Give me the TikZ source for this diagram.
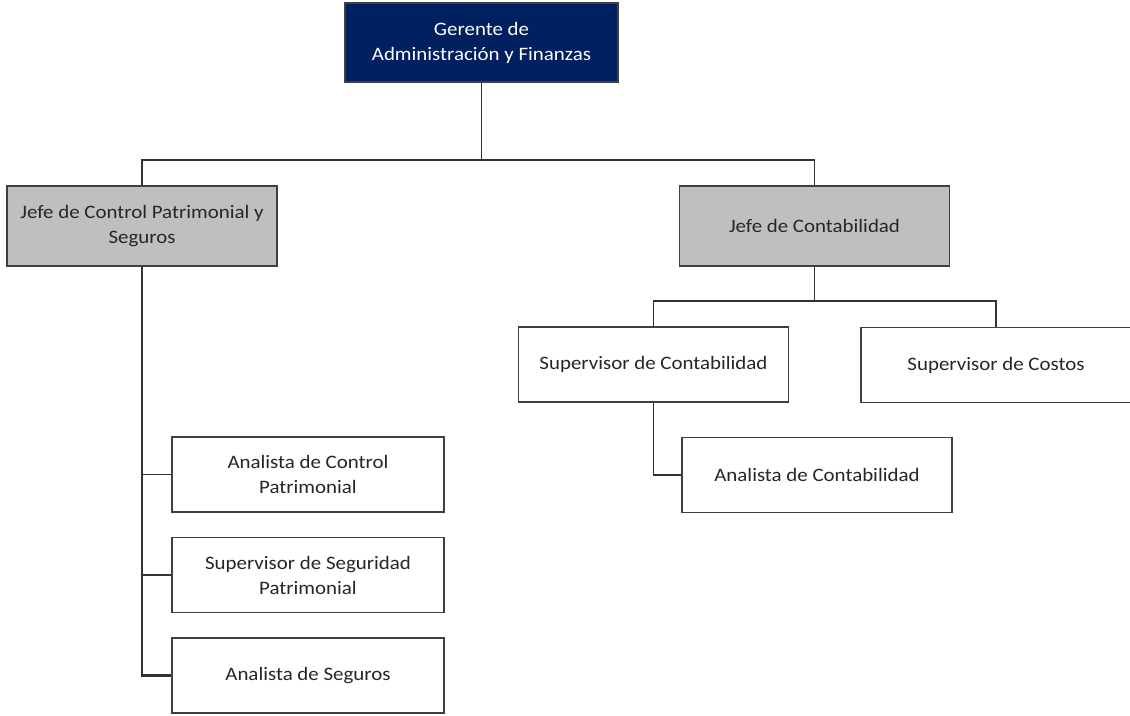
\documentclass[tikz,border=0pt]{standalone}
\usepackage{fontspec}
\setmainfont{Carlito}[FakeStretch=1.1]
\definecolor{azulgerente}{HTML}{002060}
\definecolor{grisjefe}{HTML}{BFBFBF}
\definecolor{borde}{HTML}{404040}
\begin{document}
\begin{tikzpicture}[x=1pt, y=-1pt,
  puesto/.style={draw=borde, line width=1.6pt, fill=white, align=center,
    minimum width=270pt, minimum height=75pt, inner sep=2pt,
    font=\fontsize{19}{25}\selectfont, text=black!85},
  jefe/.style={puesto, fill=grisjefe, minimum height=80pt},
  gerente/.style={puesto, fill=azulgerente, text=white, minimum width=273pt, minimum height=79pt},
  linea/.style={draw=black!80, line width=1.6pt}]
\useasboundingbox (0,0) rectangle (1130,715);
% cabeza
\node[gerente] (ger) at (481.5,42.5) {Gerente de\\Administración y Finanzas};
% jefaturas
\node[jefe] (jcp) at (142,226) {Jefe de Control Patrimonial y\\Seguros};
\node[jefe] (jcon) at (814.5,226) {Jefe de Contabilidad};
% contabilidad
\node[puesto] (scon) at (653.5,364.5) {Supervisor de Contabilidad};
\node[puesto] (scos) at (996,365) {Supervisor de Costos};
\node[puesto] (acon) at (817,475) {Analista de Contabilidad};
% control patrimonial
\node[puesto, minimum width=272pt] (acp) at (308,474.5) {Analista de Control\\Patrimonial};
\node[puesto, minimum width=272pt] (sseg) at (308,575) {Supervisor de Seguridad\\Patrimonial};
\node[puesto, minimum width=272pt] (aseg) at (308,675.5) {Analista de Seguros};
% conectores
\coordinate (b1) at (481.5,160);
\coordinate (b2) at (814.5,301);
\draw[linea] (ger.south) -- (b1);
\draw[linea] (jcp.north) |- (b1) -| (jcon.north);
\draw[linea] (jcon.south) -- (b2);
\draw[linea] (scon.north) |- (b2) -| (scos.north);
\draw[linea] (scon.south) |- (acon.west);
\draw[linea, line width=2.4pt] (jcp.south) |- (aseg.west);
\draw[linea] (jcp.south |- acp.west) -- (acp.west);
\draw[linea] (jcp.south |- sseg.west) -- (sseg.west);
\end{tikzpicture}
\end{document}
